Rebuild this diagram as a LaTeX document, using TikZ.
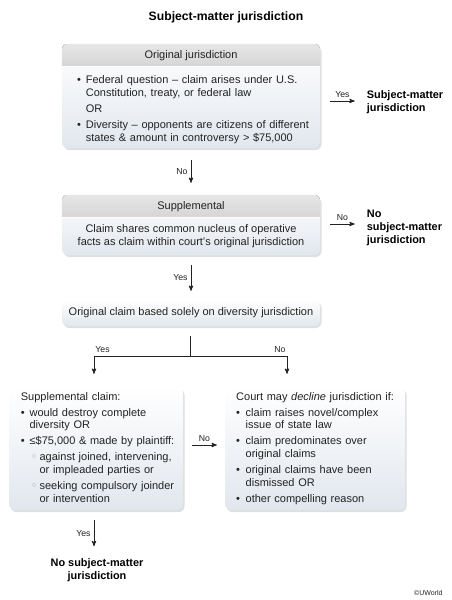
\documentclass[tikz,border=0pt]{standalone}
\usepackage{fontspec}
\setmainfont{Liberation Sans}
\newfontfamily\symfont{DejaVu Sans}
\usepackage{xcolor}
\usepackage{enumitem}
\usepackage{tikz}
\usetikzlibrary{calc}
\usetikzlibrary{arrows}
\usetikzlibrary{shadows}
\definecolor{ink}{HTML}{222222}
\definecolor{boxblue}{HTML}{E1E7EE}
\definecolor{hdrtop}{HTML}{E6E6E6}
\definecolor{hdrbot}{HTML}{D5D5D5}
\definecolor{subgray}{HTML}{9A9A9A}
\setlist[itemize,1]{label=\textbullet, leftmargin=8.7pt, labelwidth=8.7pt, labelsep=0pt, align=left, topsep=3.3pt, partopsep=0pt, itemsep=3.3pt, parsep=0pt}
\setlist[itemize,2]{label={\color{subgray}\symfont ◦}, leftmargin=10pt, labelwidth=8.6pt, labelsep=0pt, align=left, topsep=3.3pt, partopsep=0pt, itemsep=3.3pt, parsep=0pt}
\tikzset{
  box/.style={rounded corners=6pt, top color=white, bottom color=boxblue, drop shadow={shadow xshift=1.5pt, shadow yshift=-2pt, opacity=.25}},
  txt/.style={font=\fontsize{11}{12.7}\selectfont, text=ink, inner sep=0pt},
  lbl/.style={font=\fontsize{8.7}{10}\selectfont, text=ink, inner sep=3pt},
  res/.style={font=\bfseries\fontsize{10.9}{13}\selectfont, text=black, inner sep=0pt, align=left},
  arr/.style={ink, line width=.9pt, ->, >=stealth'}
}
\newcommand{\boxhead}[1]{
  \begin{scope}
    \clip[rounded corners=6pt] (#1.south west) rectangle (#1.north east);
    \fill[top color=hdrtop, bottom color=hdrbot] (#1.north west) rectangle ([yshift=-23pt]#1.north east);
  \end{scope}
  \draw[white, line width=1pt] ([yshift=-23pt]#1.north west) -- ([yshift=-23pt]#1.north east);
}

\begin{document}
\begin{tikzpicture}[x=1pt, y=-1pt]
    \fill[white] (0,0) rectangle (452,600);
    \useasboundingbox (0,0) rectangle (452,600);
    \node[font=\bfseries\fontsize{12.2}{14}\selectfont, text=black] (title) at (226,17) {Subject-matter jurisdiction};

    \node[box, minimum width=258pt, minimum height=104pt] (orig) at (191,96) {};
    \node[box, minimum width=258pt, minimum height=60pt] (supp) at (191,225) {};
    \node[box, minimum width=258pt, minimum height=26pt] (divers) at (191,313) {};
    \node[box, minimum width=174pt, minimum height=123pt] (claim) at (96,448.5) {};
    \node[box, minimum width=180pt, minimum height=123pt] (decline) at (315,448.5) {};
    \boxhead{orig}
    \boxhead{supp}

    \node[txt] (orighd) at (191,55.5) {Original jurisdiction};
    \node[txt, anchor=north west, text width=238pt, align=left] (origtxt) at (77,71) {\begin{itemize}[topsep=0pt]
      \item Federal question -- claim arises under U.S.\newline Constitution, treaty, or federal law
      \item[] OR
      \item Diversity -- opponents are citizens of different\newline states \& amount in controversy > \$75,000
    \end{itemize}};
    \node[txt] (supphd) at (191,207) {Supplemental};
    \node[txt, align=center] (supptxt) at (191,236) {Claim shares common nucleus of operative\\facts as claim within court's original jurisdiction};
    \node[txt] (diverstxt) at (191,313) {Original claim based solely on diversity jurisdiction};
    \node[txt, anchor=north west, text width=160pt, align=left] (claimtxt) at (20.7,392) {Supplemental claim:
    \begin{itemize}
      \item would destroy complete\newline diversity OR
      \item ≤\$75,000 \& made by plaintiff:
      \begin{itemize}
        \item against joined, intervening,\newline or impleaded parties or
        \item seeking compulsory joinder\newline or intervention
      \end{itemize}
    \end{itemize}};
    \node[txt, anchor=north west, text width=165pt, align=left] (declinetxt) at (236,392) {Court may \textit{decline} jurisdiction if:
    \begin{itemize}[leftmargin=9.5pt, labelwidth=9.5pt]
      \item claim raises novel/complex\newline issue of state law
      \item claim predominates over\newline original claims
      \item original claims have been\newline dismissed OR
      \item other compelling reason
    \end{itemize}};

    \node[res, anchor=west] (yesres) at (366.7,102) {Subject-matter\\jurisdiction};
    \node[res, anchor=west] (nores) at (366.7,228) {No\\subject-matter\\jurisdiction};
    \node[res, align=center] (nores2) at (97,570) {No subject-matter\\jurisdiction};
    \node[font=\fontsize{7}{8}\selectfont, text=ink, anchor=east] (copy) at (446,593) {\textcopyright UWorld};

    \draw[arr] ([xshift=10pt, yshift=-5pt]orig.east) -- ([xshift=-12pt, yshift=-5pt]orig.east -| yesres.west) node[lbl, midway, above]{Yes};
    \draw[arr] ([yshift=-12pt]orig.south) -- ([yshift=12pt]supp.north) node[lbl, midway, left]{No};
    \draw[arr] ([xshift=10pt, yshift=1pt]supp.east) -- ([xshift=-12pt, yshift=1pt]supp.east -| nores.west) node[lbl, midway, above]{No};
    \draw[arr] ([yshift=-10pt]supp.south) -- ([yshift=9pt]divers.north) node[lbl, midway, left]{Yes};
    \coordinate (split) at (190,356);
    \coordinate (splitl) at (94,356);
    \coordinate (splitr) at (287,356);
    \draw[ink, line width=.9pt] ([yshift=-10pt]divers.south -| split) -- (split);
    \draw[arr] (split) -- (splitl) node[lbl, anchor=south west, inner sep=1pt, yshift=2pt]{Yes} -- ([yshift=13pt]claim.north -| splitl);
    \draw[arr] (split) -- (splitr) node[lbl, anchor=south east, inner sep=1pt, yshift=2pt]{No} -- ([yshift=13pt]decline.north -| splitr);
    \draw[arr] ([xshift=9pt, yshift=3.5pt]claim.east) -- ([xshift=-8pt, yshift=3.5pt]decline.west) node[lbl, midway, above]{No};
    \draw[arr] ([yshift=-10pt]claim.south -| splitl) -- ([yshift=-36pt]claim.south -| splitl) node[lbl, midway, left]{Yes};
\end{tikzpicture}
\end{document}
